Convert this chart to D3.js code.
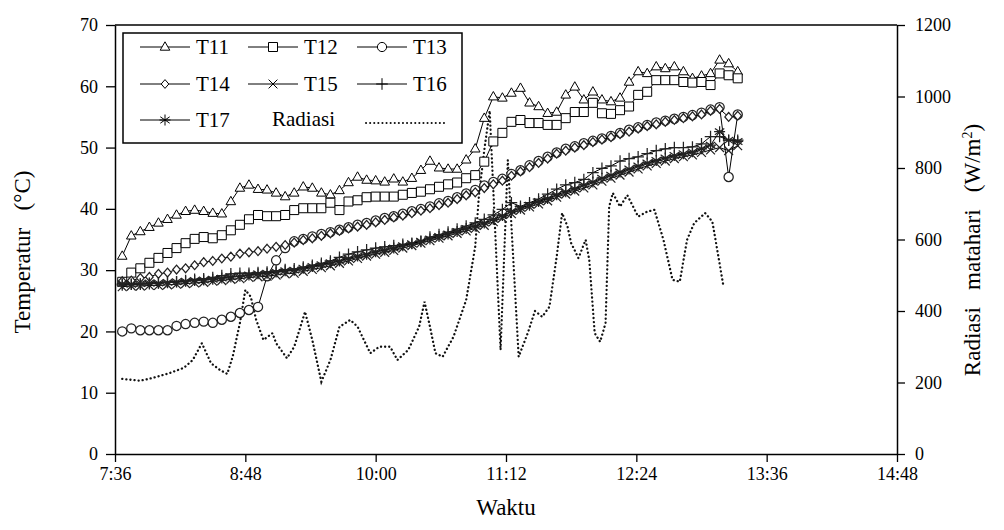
<!DOCTYPE html>
<html><head><meta charset="utf-8">
<script src="https://cdn.jsdelivr.net/npm/d3@7"></script>
<style>
body{margin:0;background:#fff}
svg text{font-family:"Liberation Serif","Times New Roman","DejaVu Serif",serif !important;fill:#000}
</style>
</head><body>
<svg id="c" width="1004" height="530"></svg>
<script>
// ---------- data ----------
const times = ["7:40","7:45","7:50","7:55","8:00","8:05","8:10","8:15","8:20","8:25",
"8:30","8:35","8:40","8:45","8:50","8:55","9:00","9:05","9:10","9:15",
"9:20","9:25","9:30","9:35","9:40","9:45","9:50","9:55","10:00","10:05",
"10:10","10:15","10:20","10:25","10:30","10:35","10:40","10:45","10:50","10:55",
"11:00","11:05","11:10","11:15","11:20","11:25","11:30","11:35","11:40","11:45",
"11:50","11:55","12:00","12:05","12:10","12:15","12:20","12:25","12:30","12:35",
"12:40","12:45","12:50","12:55","13:00","13:05","13:10","13:15","13:20"];

const T11 = [32.3,35.6,36.3,37.0,37.7,38.3,39.0,39.6,39.8,39.6,
39.3,39.2,41.2,43.4,43.9,43.2,43.1,42.6,42.0,42.6,
43.6,43.4,42.6,42.3,43.0,44.3,45.2,44.7,44.6,44.4,
44.9,44.4,45.0,46.3,47.8,46.7,46.5,46.5,48.0,49.8,
54.8,58.3,58.1,58.9,59.7,57.3,56.7,55.6,55.8,58.6,
59.9,57.8,59.1,57.8,57.5,58.1,60.7,62.4,62.1,63.2,
62.9,63.2,62.4,61.3,61.7,62.1,64.3,63.7,62.4];

const T12 = [28.1,29.6,30.3,31.2,32.0,32.8,33.6,34.4,35.1,35.4,
35.2,35.7,36.5,37.4,38.3,39.0,38.8,38.8,39.0,39.8,
40.1,40.1,40.1,41.0,39.8,41.2,41.4,41.9,42.0,42.0,
42.0,42.3,42.6,42.8,43.2,43.6,44.0,44.3,45.0,45.5,
47.7,51.0,52.4,54.2,54.5,54.0,54.0,53.7,53.7,54.8,
55.8,55.8,57.3,55.6,55.5,56.1,56.7,58.6,59.1,61.0,
61.0,61.0,60.7,60.6,60.7,60.2,62.1,61.8,61.3];

const T13 = [20.0,20.5,20.2,20.2,20.2,20.2,20.9,21.2,21.4,21.6,
21.4,21.9,22.4,23.0,23.5,24.0,29.0,31.6,33.6,34.7,
35.1,35.5,35.9,36.2,36.6,37.0,37.4,37.7,38.1,38.5,
38.8,39.2,39.6,40.0,40.4,40.9,41.3,41.9,42.5,43.1,
43.8,44.4,44.9,45.7,46.3,47.1,47.8,48.5,49.2,49.8,
50.2,50.7,51.1,51.5,51.9,52.4,52.9,53.3,53.7,54.1,
54.4,54.7,55.0,55.3,55.7,56.2,56.6,45.2,55.4];

const T14 = [28.2,28.3,28.7,28.9,29.4,29.6,30.1,30.3,30.8,31.3,
31.5,31.9,32.2,32.7,32.9,33.1,33.5,33.8,34.1,34.5,
34.9,35.2,35.6,36.0,36.4,36.8,37.1,37.4,37.8,38.2,
38.6,38.9,39.3,39.7,40.1,40.6,41.0,41.6,42.2,42.7,
43.4,44.0,44.6,45.4,46.1,46.8,47.5,48.2,49.0,49.5,
50.0,50.4,50.9,51.3,51.7,52.2,52.6,53.1,53.5,53.8,
54.2,54.5,54.8,55.1,55.4,56.0,56.3,55.0,55.2];

const T15 = [27.3,27.4,27.4,27.5,27.5,27.6,27.7,27.8,27.9,28.0,
28.2,28.3,28.5,28.6,28.8,28.9,29.0,29.2,29.4,29.5,
29.8,30.1,30.4,30.7,31.1,31.5,31.9,32.3,32.6,32.9,
33.2,33.6,34.0,34.4,34.8,35.2,35.6,36.0,36.4,36.8,
37.3,37.9,38.5,39.2,39.8,40.3,40.8,41.3,41.9,42.4,
42.9,43.4,43.9,44.5,45.0,45.5,46.0,46.5,47.0,47.4,
47.8,48.2,48.5,48.8,49.2,49.6,50.0,49.5,50.3];

const T16 = [27.6,27.7,27.7,27.8,27.9,28.0,28.1,28.3,28.5,28.6,
28.8,29.1,29.4,29.5,29.5,29.6,29.7,29.9,30.1,30.2,
30.5,30.8,31.1,31.5,32.1,32.6,33.0,33.3,33.6,33.8,
34.0,34.2,34.4,34.7,35.4,35.8,36.2,36.7,37.2,37.7,
38.3,39.0,39.9,41.0,40.4,41.0,41.6,42.4,43.2,43.9,
44.3,44.8,45.9,46.6,47.0,47.8,48.2,48.5,49.0,49.5,
49.8,50.0,50.0,50.1,50.6,51.8,51.8,51.2,51.2];

const T17 = [27.8,27.7,27.8,27.9,27.9,28.0,28.1,28.2,28.3,28.4,
28.5,28.7,28.9,29.0,29.2,29.4,29.5,29.7,29.9,30.0,
30.3,30.6,30.9,31.2,31.5,31.9,32.3,32.6,33.0,33.3,
33.6,34.0,34.3,34.7,35.1,35.5,35.9,36.3,36.8,37.2,
37.7,38.3,38.9,39.6,40.1,40.6,41.2,41.7,42.3,42.8,
43.3,43.9,44.4,45.0,45.5,46.0,46.5,47.0,47.5,47.9,
48.3,48.7,49.0,49.3,49.8,50.4,52.6,51.2,51.0];

const radTimes = ["7:40","7:50","7:57","8:06","8:14","8:19","8:24","8:29","8:34","8:38",
"8:41","8:45","8:48","8:51","8:54","8:58","9:03","9:05","9:11","9:15",
"9:21","9:25","9:30","9:35","9:40","9:46","9:50","9:57","10:02","10:08",
"10:12","10:18","10:24","10:27","10:30","10:33","10:37","10:43","10:50","10:55",
"10:57","11:00","11:03","11:09","11:13","11:19","11:24","11:28","11:32","11:36",
"11:40","11:43","11:46","11:48","11:52","11:56","11:58","12:01","12:04","12:07",
"12:09","12:11","12:15","12:19","12:25","12:30","12:34","12:39","12:44","12:48",
"12:52","12:56","13:02","13:06","13:09","13:12"];
const radValues = [210,205,213,226,241,263,310,254,235,224,
272,366,459,440,375,319,338,310,268,300,
398,319,202,263,356,375,356,282,300,300,
263,291,356,426,356,282,272,328,431,580,
720,850,960,291,822,272,338,400,384,412,
552,674,636,590,548,599,543,338,314,366,
692,730,692,724,664,678,683,599,487,482,
599,646,674,650,562,473];

const seriesNames = ["T11","T12","T13","T14","T15","T16","T17"];
const seriesMarkers = ["triangle","square","circle","diamond","cross","plus","star"];
const xTickLabels = ["7:36","8:48","10:00","11:12","12:24","13:36","14:48"];
const yLeftTicks = [0,10,20,30,40,50,60,70];
const yRightTicks = [0,200,400,600,800,1000,1200];
const radLabel = "Radiasi";

// ---------- setup ----------
const FONT = "'Liberation Serif','Times New Roman','DejaVu Serif',serif";
const toMin = s => { const [h,m] = s.split(":").map(Number); return h*60+m; };
const fmt = v => Math.floor(v/60) + ":" + String(v%60).padStart(2,"0");
const svg = d3.select("#c");
const L = 115, R = 897, T = 25, B = 454;
const x = d3.scaleLinear().domain([toMin(xTickLabels[0]), toMin(xTickLabels[xTickLabels.length-1])]).range([L, R]);
const yL = d3.scaleLinear().domain([0,70]).range([B, T]);
const yR = d3.scaleLinear().domain([0,1200]).range([B, T]);

function sym(type){
  switch(type){
    case "triangle": return "M0,-5.2L4.8,3.2L-4.8,3.2Z";
    case "square": return "M-4.5,-4.5H4.5V4.5H-4.5Z";
    case "circle": return "M4.6,0A4.6,4.6 0 1,1 -4.6,0A4.6,4.6 0 1,1 4.6,0Z";
    case "diamond": return "M0,-4.4L3.8,0L0,4.4L-3.8,0Z";
    case "cross": return "M-4.4,-4.4L4.4,4.4M-4.4,4.4L4.4,-4.4";
    case "plus": return "M-5.8,0H5.8M0,-5.8V5.8";
    case "star": return "M0,-5.5V5.5M-4.7,-3.2L4.7,3.2M-4.7,3.2L4.7,-3.2M-5.5,0H5.5";
  }
}
const filled = {triangle:true,square:true,circle:true,diamond:true};

// ---------- frame & axes ----------
const axL = svg.append("g").attr("transform",`translate(${L},0)`)
  .call(d3.axisLeft(yL).tickValues(yLeftTicks).tickFormat(d3.format("d")).tickSize(9).tickPadding(8).tickSizeOuter(0));
const axR = svg.append("g").attr("transform",`translate(${R},0)`)
  .call(d3.axisRight(yR).tickValues(yRightTicks).tickFormat(d3.format("d")).tickSize(8).tickPadding(10).tickSizeOuter(0));
const axB = svg.append("g").attr("transform",`translate(0,${B})`)
  .call(d3.axisBottom(x).tickValues(xTickLabels.map(toMin)).tickFormat(fmt).tickSize(8).tickPadding(5).tickSizeOuter(0));
svg.append("line").attr("x1",L).attr("x2",R).attr("y1",T).attr("y2",T).attr("stroke","#000").attr("stroke-width",1.5);
[axL,axR,axB].forEach(g=>{
  g.attr("font-family",FONT);
  g.selectAll("path.domain").attr("stroke","#000").attr("stroke-width",1.5);
  g.selectAll(".tick line").attr("stroke","#000").attr("stroke-width",1.3);
  g.selectAll("text").attr("font-size",18).style("font-family",FONT);
});

// titles
svg.append("text").attr("transform","translate(30,252) rotate(-90)").attr("text-anchor","middle")
  .attr("font-size",23).style("font-family",FONT).style("white-space","pre").text("Temperatur   (\u00B0C)");
svg.append("text").attr("transform","translate(980,250) rotate(-90)").attr("text-anchor","middle")
  .attr("font-size",23).style("font-family",FONT).style("white-space","pre")
  .html("Radiasi   matahari   (W/m<tspan dy='-8' font-size='14'>2</tspan><tspan dy='8'>)</tspan>");
svg.append("text").attr("x",506).attr("y",515).attr("text-anchor","middle").attr("font-size",23).style("font-family",FONT).text("Waktu");

// ---------- data ----------
const plot = svg.append("g");
plot.append("path").datum(radTimes.map((t,i)=>[toMin(t), radValues[i]]))
  .attr("fill","none").attr("stroke","#111").attr("stroke-width",2.3)
  .attr("stroke-linecap","round").attr("stroke-dasharray","0.1 4")
  .attr("d", d3.line().x(d=>x(d[0])).y(d=>yR(d[1])));

const allSeries = [T11,T12,T13,T14,T15,T16,T17];
const line = d3.line().x(d=>x(d[0])).y(d=>yL(d[1]));
allSeries.forEach((vals,si)=>{
  const pts = times.map((t,i)=>[toMin(t), vals[i]]);
  const g = plot.append("g");
  g.append("path").datum(pts).attr("fill","none").attr("stroke","#000").attr("stroke-width",1).attr("d",line);
  const m = seriesMarkers[si];
  g.selectAll("path.m").data(pts).join("path").attr("class","m")
    .attr("transform",d=>`translate(${x(d[0])},${yL(d[1])})`)
    .attr("d",sym(m)).attr("fill",filled[m]?"#fff":"none")
    .attr("stroke", si>=2 ? "#222" : "#000").attr("stroke-width", si>=2 ? 1.25 : 1);
});

// ---------- legend ----------
const lg = svg.append("g");
lg.append("rect").attr("x",123).attr("y",33).attr("width",339).attr("height",110)
  .attr("fill","#fff").attr("stroke","#000").attr("stroke-width",1.5);
const colX = [140,248,357], rowY = [47,84,120];
seriesNames.forEach((name,i)=>{
  const cx = colX[i%3], cy = rowY[Math.floor(i/3)];
  lg.append("line").attr("x1",cx).attr("x2",cx+50).attr("y1",cy).attr("y2",cy).attr("stroke","#000").attr("stroke-width",1);
  const m = seriesMarkers[i];
  lg.append("path").attr("transform",`translate(${cx+25},${cy})`).attr("d",sym(m))
    .attr("fill",filled[m]?"#fff":"none").attr("stroke","#000").attr("stroke-width",1);
  lg.append("text").attr("x",cx+56).attr("y",cy+7).attr("font-size",21).style("font-family",FONT).text(name);
});
lg.append("text").attr("x",272).attr("y",rowY[2]+6).attr("font-size",21).style("font-family",FONT).text(radLabel);
lg.append("line").attr("x1",366).attr("x2",448).attr("y1",rowY[2]+3).attr("y2",rowY[2]+3)
  .attr("stroke","#111").attr("stroke-width",2).attr("stroke-linecap","round").attr("stroke-dasharray","0.1 4");
</script>
</body></html>
